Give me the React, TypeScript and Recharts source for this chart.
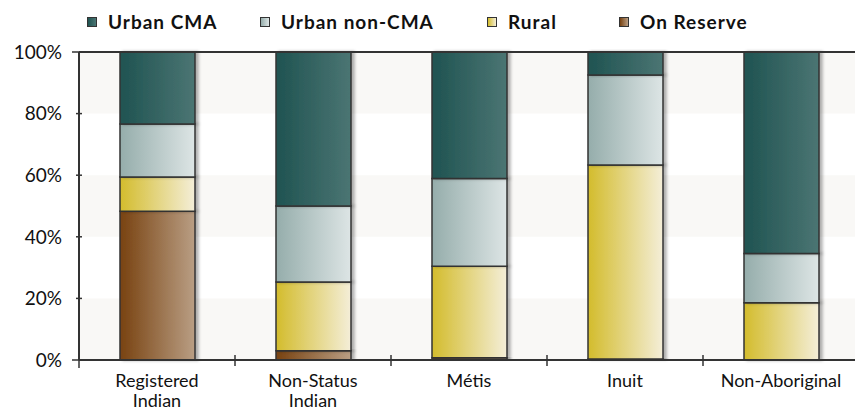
import { Bar, BarChart, Legend, ReferenceArea, ReferenceLine, XAxis, YAxis } from 'recharts'

const categories = ['Registered Indian', 'Non-Status Indian', 'Métis', 'Inuit', 'Non-Aboriginal']
const onReserve = [48.3, 3.0, 0.7, 0.3, 0]
const rural = [11.1, 22.3, 29.7, 63.0, 18.6]
const urbanNonCma = [17.2, 24.7, 28.5, 29.2, 16.0]
const urbanCma = [23.4, 50.0, 41.1, 7.5, 65.4]
const yTicks = [0, 20, 40, 60, 80, 100]

const data = categories.map((name, i) => ({
   name,
   onReserve: onReserve[i],
   rural: rural[i],
   urbanNonCma: urbanNonCma[i],
   urbanCma: urbanCma[i],
}))

const series = [
   { key: 'urbanCma', label: 'Urban CMA', from: '#1f5351', to: '#4b7573' },
   { key: 'urbanNonCma', label: 'Urban non-CMA', from: '#95adab', to: '#dde5e5' },
   { key: 'rural', label: 'Rural', from: '#d3bc2c', to: '#f4eed8' },
   { key: 'onReserve', label: 'On Reserve', from: '#784210', to: '#b99e84' },
]

const legendX = [87, 260, 487, 619]
const font = 'Lato, "Noto Sans", sans-serif'
const ink = '#333'

function LegendBox() {
   return (
      <div style={{ position: 'relative', width: 855, height: 44, fontFamily: font }}>
         {series.map((s, i) => (
            <div
               key={s.key}
               style={{
                  position: 'absolute',
                  left: legendX[i],
                  top: 10,
                  display: 'flex',
                  alignItems: 'center',
                  gap: 11,
                  fontWeight: 700,
                  fontSize: 19,
                  letterSpacing: 1,
                  color: '#111',
               }}
            >
               <span
                  style={{
                     width: 8,
                     height: 8,
                     border: '1px solid #333',
                     background: `linear-gradient(to right, ${s.from}, ${s.to})`,
                  }}
               />
               {s.label}
            </div>
         ))}
      </div>
   )
}

function YTick({ x, y, payload }: any) {
   const edge = payload.value === 0 || payload.value === 100
   return (
      <g>
         <line x1={edge ? x - 7 : x - 3} x2={x + 3} y1={y} y2={y} stroke={ink} strokeWidth={1.5} />
         <text x={x - 17} y={y} dy="0.36em" textAnchor="end" fontFamily={font} fontSize={19} fill="#111">
            {payload.value}%
         </text>
      </g>
   )
}

function XTick({ x, y, payload, index }: any) {
   const lines = String(payload.value).split(' ')
   const bx = x - 78
   return (
      <g>
         <line x1={bx} x2={bx} y1={index === 0 ? y : y - 5} y2={y + (index === 0 ? 8 : 6)} stroke={ink} strokeWidth={1.5} />
         {lines.map((t, i) => (
            <text key={i} x={x} y={y + 27 + i * 20} textAnchor="middle" fontFamily={font} fontSize={18} fill="#111">
               {t}
            </text>
         ))}
      </g>
   )
}

export default function App() {
   return (
      <div style={{ position: 'absolute', left: 0, top: 0, width: 855, height: 412, overflow: 'hidden', background: '#fff' }}>
         <BarChart width={860} height={412} data={data} margin={{ top: 52, right: 1, left: 0, bottom: 0 }} barSize={75}>
            <defs>
               {series.map((s) => (
                  <linearGradient key={s.key} id={`g-${s.key}`} x1="0" y1="0" x2="1" y2="0">
                     <stop offset="0%" stopColor={s.from} />
                     <stop offset="100%" stopColor={s.to} />
                  </linearGradient>
               ))}
               <filter id="shade" x="-10%" y="-10%" width="130%" height="120%">
                  <feDropShadow dx="3" dy="0" stdDeviation="1.5" floodColor="#000" floodOpacity="0.3" />
               </filter>
            </defs>
            <ReferenceArea y1={80} y2={100} fill="#f9f8f6" fillOpacity={1} stroke="none" />
            <ReferenceArea y1={40} y2={60} fill="#f9f8f6" fillOpacity={1} stroke="none" />
            <ReferenceArea y1={0} y2={20} fill="#f9f8f6" fillOpacity={1} stroke="none" />
            <XAxis
               dataKey="name"
               height={52}
               axisLine={{ stroke: ink, strokeWidth: 2 }}
               tickLine={false}
               tickSize={0}
               tickMargin={0}
               interval={0}
               tick={<XTick />}
            />
            <YAxis
               width={79}
               domain={[0, 100]}
               ticks={yTicks}
               axisLine={{ stroke: ink, strokeWidth: 2 }}
               tickLine={false}
               tickSize={0}
               tickMargin={0}
               tick={<YTick />}
            />
            <Legend layout="horizontal" verticalAlign="middle" align="center" wrapperStyle={{ top: 0, left: 0 }} content={<LegendBox />} />
            {[...series].reverse().map((s) => (
               <Bar
                  key={s.key}
                  dataKey={s.key}
                  stackId="a"
                  fill={`url(#g-${s.key})`}
                  stroke={ink}
                  strokeWidth={1.5}
                  filter="url(#shade)"
                  isAnimationActive={false}
               />
            ))}
            <ReferenceLine y={100} stroke={ink} strokeWidth={2} />
         </BarChart>
      </div>
   )
}
